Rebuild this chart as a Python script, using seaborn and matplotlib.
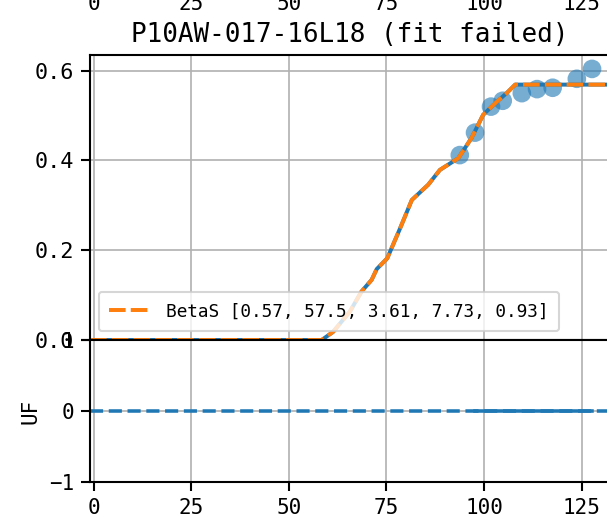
import matplotlib
matplotlib.use("Agg")
import matplotlib.pyplot as plt
import seaborn as sns

# ---- data ----
title = "P10AW-017-16L18 (fit failed)"
fit_label = "BetaS [0.57, 57.5, 3.61, 7.73, 0.93]"

curve_x = [-1, 58.4, 61.3, 65.6, 68.6, 71.2, 72.5, 75.2, 78.5, 81.5, 85.7,
           88.7, 93.4, 96.8, 99.8, 103.3, 105.8, 108.0, 133]
curve_y = [0, 0, 0.018, 0.063, 0.108, 0.134, 0.158, 0.182, 0.249, 0.312, 0.346,
           0.379, 0.405, 0.45, 0.502, 0.531, 0.55, 0.569, 0.569]

pts_x = [93.8, 97.7, 101.8, 104.8, 109.7, 113.6, 117.6, 123.8, 127.7]
pts_y = [0.412, 0.462, 0.520, 0.533, 0.550, 0.559, 0.562, 0.582, 0.604]

resid_x = [97.7, 101.8, 104.8, 109.7, 113.6, 117.6, 123.8, 127.7]
resid_y = [0, 0, 0, 0, 0, 0, 0, 0]

x_ticks = [0, 25, 50, 75, 100, 125]
top_yticks = [0.0, 0.2, 0.4, 0.6]
bottom_yticks = [-1, 0, 1]

# ---- fonts and frame ----
plt.rcParams["font.family"] = ["DejaVu Sans Mono", "Noto Sans CJK SC", "DejaVu Sans"]
plt.rcParams["axes.unicode_minus"] = True
plt.rcParams["axes.linewidth"] = 1.0
for k in ("xtick", "ytick"):
    plt.rcParams[f"{k}.major.size"] = 4.2
    plt.rcParams[f"{k}.major.width"] = 1.0

blue = "#1f77b4"
orange = "#ff7f0e"
fit_dashes = (4.2, 1.3)

W, H, DPI = 607, 520, 150
fig = plt.figure(figsize=(W / DPI, H / DPI), dpi=DPI)

left = 90 / W
width = (610 - 90) / W
y_split = (H - 340) / H
ax1 = fig.add_axes([left, y_split, width, (340 - 55) / H])
ax2 = fig.add_axes([left, (H - 482) / H, width, (482 - 340) / H], sharex=ax1)
# strip of the panel above; only its tick labels fall inside the canvas
ax0 = fig.add_axes([left, 1 + 22 / H, width, 0.2], sharex=ax1)

for ax in (ax0, ax1, ax2):
    ax.grid(True, color="#b0b0b0", linewidth=0.8)
    ax.set_axisbelow(True)
    ax.tick_params(labelsize=10)

# upper panel: curve, fit and measured points
sns.lineplot(x=curve_x, y=curve_y, ax=ax1, color=blue, linewidth=1.9,
             sort=False, estimator=None)
sns.lineplot(x=curve_x, y=curve_y, ax=ax1, color=orange, linewidth=1.9,
             sort=False, estimator=None, label=fit_label)
ax1.lines[-1].set_dashes(fit_dashes)
sns.scatterplot(x=pts_x, y=pts_y, ax=ax1, color=blue, alpha=0.6, s=80,
                edgecolor="none", zorder=1)
ax1.set_ylim(0, 0.635)
ax1.set_yticks(top_yticks)
ax1.tick_params(axis="y", labelsize=10.5)
ax1.set_title(title, fontsize=12.5)
ax1.tick_params(labelbottom=False)
leg = ax1.legend(loc="lower left", prop={"size": 8.5}, handlelength=2.4,
                 borderpad=0.6)
leg.get_lines()[0].set_dashes(fit_dashes)

# lower panel: residuals
ax2.axhline(0, color=blue, linestyle="--", linewidth=1.7)
sns.lineplot(x=resid_x, y=resid_y, ax=ax2, color=blue, linewidth=1.7,
             linestyle="-", estimator=None)
ax2.set_ylim(-1, 1)
ax2.set_yticks(bottom_yticks)
ax2.tick_params(axis="y", labelsize=10)
ax2.set_ylabel("UF", fontsize=10)
ax2.set_xlim(-1, 132.3)
ax2.set_xticks(x_ticks)

ax0.set_yticks([])
ax0.set_xticks(x_ticks)

fig.savefig("out.png", dpi=DPI)
